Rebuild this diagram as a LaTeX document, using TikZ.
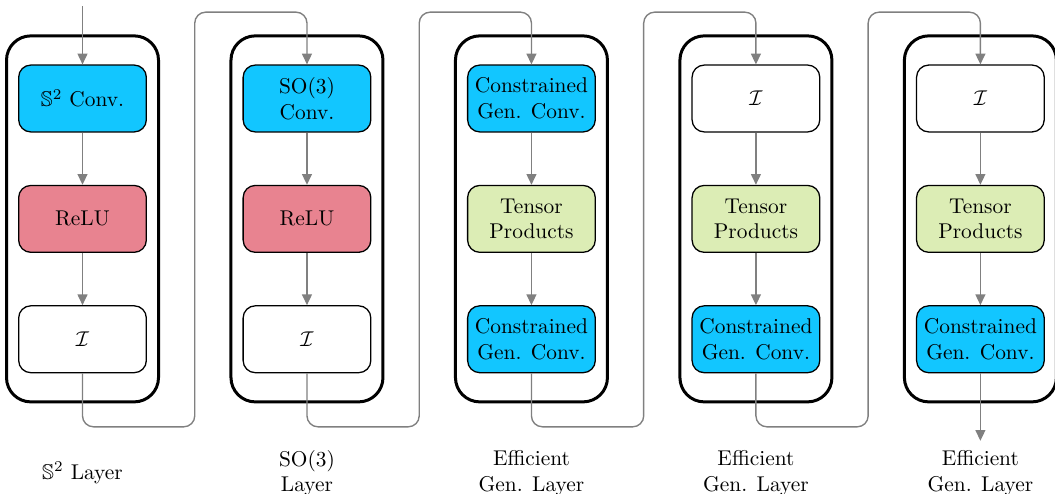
\documentclass[tikz,border=0pt]{standalone}
\usepackage{amsmath}
\usepackage{amsfonts}
\usepackage{tikz}
\usetikzlibrary{arrows.meta}

\definecolor{convblue}{RGB}{18,198,255}
\definecolor{relured}{RGB}{232,131,144}
\definecolor{tpgreen}{RGB}{220,237,181}
\definecolor{flowgray}{RGB}{128,128,128}

\tikzset{
	layerbox/.style={shape=rectangle,draw=black,line width=1.4pt,rounded corners=0.4cm,minimum width=2.5cm,minimum height=6.02cm},
	opbox/.style={shape=rectangle,draw=black,semithick,rounded corners=0.2cm,minimum width=2.1cm,minimum height=1.1cm,align=center,inner sep=1pt},
	flow/.style={draw=flowgray,line width=0.65pt,-{Triangle[length=5pt,width=4.6pt]}},
	link/.style={flow,rounded corners=0.18cm},
	caption/.style={align=center}
}

\begin{document}
\begin{tikzpicture}

	\useasboundingbox (0,0) rectangle (17.352,-8.109);

	% layers
	\node[layerbox] (L1) at (1.357, -3.6)  {};
	\node[layerbox] (L2) at (5.049, -3.6)  {};
	\node[layerbox] (L3) at (8.741, -3.6)  {};
	\node[layerbox] (L4) at (12.433, -3.6) {};
	\node[layerbox] (L5) at (16.125, -3.6) {};

	% S2 layer
	\node[opbox,fill=convblue] (s2conv) at (1.357, -1.62) {$\mathbb{S}^2$ Conv.};
	\node[opbox,fill=relured]  (relu1)  at (1.357, -3.6)  {ReLU};
	\node[opbox,fill=white]    (id1)    at (1.357, -5.58) {$\mathcal{I}$};

	% SO(3) layer
	\node[opbox,fill=convblue] (so3conv) at (5.049, -1.62) {SO(3)\\Conv.};
	\node[opbox,fill=relured]  (relu2)   at (5.049, -3.6)  {ReLU};
	\node[opbox,fill=white]    (id2)     at (5.049, -5.58) {$\mathcal{I}$};

	% efficient gen. layers
	\node[opbox,fill=convblue] (gc3a) at (8.741, -1.62) {Constrained\\Gen. Conv.};
	\node[opbox,fill=tpgreen]  (tp3)  at (8.741, -3.6)  {Tensor\\Products};
	\node[opbox,fill=convblue] (gc3b) at (8.741, -5.58) {Constrained\\Gen. Conv.};

	\node[opbox,fill=white]    (id4)  at (12.433, -1.62) {$\mathcal{I}$};
	\node[opbox,fill=tpgreen]  (tp4)  at (12.433, -3.6)  {Tensor\\Products};
	\node[opbox,fill=convblue] (gc4)  at (12.433, -5.58) {Constrained\\Gen. Conv.};

	\node[opbox,fill=white]    (id5)  at (16.125, -1.62) {$\mathcal{I}$};
	\node[opbox,fill=tpgreen]  (tp5)  at (16.125, -3.6)  {Tensor\\Products};
	\node[opbox,fill=convblue] (gc5)  at (16.125, -5.58) {Constrained\\Gen. Conv.};

	% captions
	\node[caption] (cap1) at (1.357, -7.78)  {$\mathbb{S}^2$ Layer};
	\node[caption] (cap2) at (5.049, -7.78)  {SO(3)\\Layer};
	\node[caption] (cap3) at (8.741, -7.78)  {Efficient\\Gen. Layer};
	\node[caption] (cap4) at (12.433, -7.78) {Efficient\\Gen. Layer};
	\node[caption] (cap5) at (16.125, -7.78) {Efficient\\Gen. Layer};

	% turning points between layers
	\coordinate (in)  at (1.357, -0.1);
	\coordinate (out) at (16.125, -7.25);
	\coordinate (b1) at (3.203, -7.02);  \coordinate (t1) at (3.203, -0.2);
	\coordinate (b2) at (6.895, -7.02);  \coordinate (t2) at (6.895, -0.2);
	\coordinate (b3) at (10.587, -7.02); \coordinate (t3) at (10.587, -0.2);
	\coordinate (b4) at (14.279, -7.02); \coordinate (t4) at (14.279, -0.2);

	% flow inside layers
	\path[flow] (in) -- (s2conv);
	\path[flow] (s2conv) -- (relu1);
	\path[flow] (relu1) -- (id1);
	\path[flow] (so3conv) -- (relu2);
	\path[flow] (relu2) -- (id2);
	\path[flow] (gc3a) -- (tp3);
	\path[flow] (tp3) -- (gc3b);
	\path[flow] (id4) -- (tp4);
	\path[flow] (tp4) -- (gc4);
	\path[flow] (id5) -- (tp5);
	\path[flow] (tp5) -- (gc5);
	\path[flow] (gc5) -- (out);

	% links between layers
	\path[link] (id1.south) |- (b1) -- (t1) -| (so3conv.north);
	\path[link] (id2.south) |- (b2) -- (t2) -| (gc3a.north);
	\path[link] (gc3b.south) |- (b3) -- (t3) -| (id4.north);
	\path[link] (gc4.south) |- (b4) -- (t4) -| (id5.north);

\end{tikzpicture}
\end{document}
